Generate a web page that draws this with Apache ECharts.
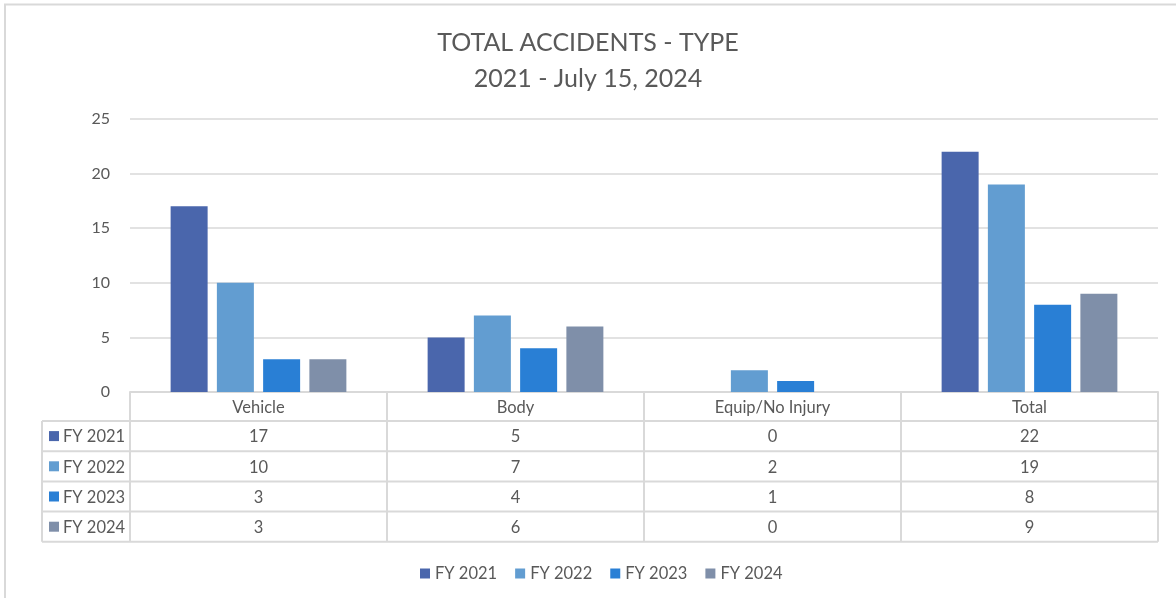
<!DOCTYPE html>
<html>
<head>
<meta charset="utf-8">
<script src="https://cdn.jsdelivr.net/npm/echarts@6/dist/echarts.min.js"></script>
<style>
  html, body { margin: 0; padding: 0; background: #ffffff; }
  #chart { width: 1176px; height: 598px; }
</style>
</head>
<body>
<div id="chart"></div>
<script>
// Accident counts by type and fiscal year
const categories = ['Vehicle', 'Body', 'Equip/No Injury', 'Total'];
const seriesNames = ['FY 2021', 'FY 2022', 'FY 2023', 'FY 2024'];
const fy2021 = [17, 5, 0, 22];
const fy2022 = [10, 7, 2, 19];
const fy2023 = [3, 4, 1, 8];
const fy2024 = [3, 6, 0, 9];
const yTicks = [0, 5, 10, 15, 20, 25];

const seriesValues = [fy2021, fy2022, fy2023, fy2024];
const colors = ['#4A66AC', '#629DD1', '#297FD5', '#7F8FA9'];
const textColor = '#595959';
const lineColor = '#D9D9D9';
const font = 'Lato, "Open Sans", sans-serif';
const cellFont = '16.5px ' + font;

const GRID = { left: 130, right: 18, top: 119, height: 273 };
const ROW_H = 30.2;     // data table row height
const HEAD_H = 29;      // header row (category names) height
const KEY_COL_LEFT = 42;

const chart = echarts.init(document.getElementById('chart'), null, { renderer: 'canvas' });

const option = {
  backgroundColor: '#ffffff',
  animation: false,
  textStyle: { fontFamily: font },
  title: {
    text: 'TOTAL ACCIDENTS - TYPE\n2021 - July 15, 2024',
    left: 'center',
    top: 20,
    textStyle: { fontFamily: font, fontSize: 25, fontWeight: 'normal', color: textColor, lineHeight: 36 }
  },
  legend: {
    data: seriesNames,
    left: 415,
    top: 560,
    icon: 'rect',
    itemWidth: 10,
    itemHeight: 10,
    itemGap: 18,
    textStyle: { fontFamily: font, fontSize: 16.5, color: textColor }
  },
  grid: { left: GRID.left, right: GRID.right, top: GRID.top, height: GRID.height, containLabel: false },
  xAxis: {
    type: 'category',
    data: categories,
    axisLine: { show: true, lineStyle: { color: lineColor, width: 2 } },
    axisTick: { show: false },
    axisLabel: { show: false },
    splitLine: { show: false }
  },
  yAxis: {
    type: 'value',
    min: yTicks[0],
    max: yTicks[yTicks.length - 1],
    interval: yTicks[1] - yTicks[0],
    axisLine: { show: false },
    axisTick: { show: false },
    axisLabel: { color: textColor, fontSize: 16, margin: 20, fontFamily: font },
    splitLine: { lineStyle: { color: lineColor, width: 1.5 } }
  },
  series: seriesNames.map((name, i) => ({
    name,
    type: 'bar',
    data: seriesValues[i],
    barWidth: 37,
    barGap: '25%',
    itemStyle: { color: colors[i] }
  }))
};

chart.setOption(option);

// Data table under the plot, laid out from the category axis positions
function buildTable() {
  const g = [];
  const y0 = chart.convertToPixel({ yAxisIndex: 0 }, 0);
  const rightX = 1176 - GRID.right;
  const catW = (rightX - GRID.left) / categories.length;
  const centers = categories.map(c => chart.convertToPixel({ xAxisIndex: 0 }, c));
  const rowsTop = y0 + HEAD_H;
  const tableBottom = rowsTop + ROW_H * seriesNames.length;
  const lineStyle = { stroke: lineColor, lineWidth: 2 };

  // vertical borders of the category columns
  for (let j = 0; j <= categories.length; j++) {
    const x = GRID.left + catW * j;
    g.push({ type: 'line', shape: { x1: x, y1: y0, x2: x, y2: tableBottom }, style: lineStyle, z: 10 });
  }
  // left border of the key column
  g.push({ type: 'line', shape: { x1: KEY_COL_LEFT, y1: rowsTop, x2: KEY_COL_LEFT, y2: tableBottom }, style: lineStyle, z: 10 });
  // horizontal row borders
  for (let i = 0; i <= seriesNames.length; i++) {
    const y = rowsTop + ROW_H * i;
    g.push({ type: 'line', shape: { x1: KEY_COL_LEFT, y1: y, x2: rightX, y2: y }, style: lineStyle, z: 10 });
  }
  // category header
  categories.forEach((c, j) => {
    g.push({
      type: 'text', x: centers[j], y: y0 + HEAD_H / 2 + 1,
      style: { text: c, fill: textColor, font: cellFont, align: 'center', verticalAlign: 'middle' }, z: 11
    });
  });
  // rows: legend key + series name + values
  seriesNames.forEach((name, i) => {
    const cy = rowsTop + ROW_H * (i + 0.5);
    g.push({ type: 'rect', shape: { x: 49, y: cy - 5, width: 10, height: 10 }, style: { fill: colors[i] }, z: 11 });
    g.push({
      type: 'text', x: 63, y: cy + 1,
      style: { text: name, fill: textColor, font: cellFont, align: 'left', verticalAlign: 'middle' }, z: 11
    });
    seriesValues[i].forEach((v, j) => {
      g.push({
        type: 'text', x: centers[j], y: cy + 1,
        style: { text: String(v), fill: textColor, font: cellFont, align: 'center', verticalAlign: 'middle' }, z: 11
      });
    });
  });
  // chart frame
  g.push({ type: 'rect', shape: { x: 5, y: 4.5, width: 1300, height: 700 }, style: { fill: 'none', stroke: lineColor, lineWidth: 2 }, z: 0 });
  return g;
}

chart.setOption({ graphic: buildTable() });
</script>
</body>
</html>
